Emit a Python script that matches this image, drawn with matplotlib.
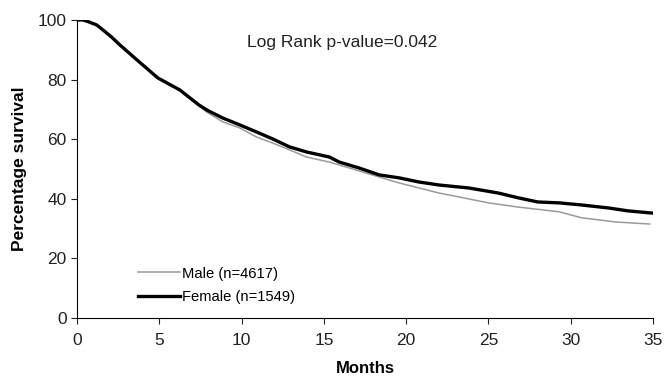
import matplotlib
matplotlib.use("Agg")
import matplotlib.pyplot as plt

plt.rcParams['font.family'] = ['Liberation Sans', 'DejaVu Sans']

# Kaplan-Meier curves (months, % survival)
months_female = [0, 0.35, 0.68, 1.19, 1.58, 2.1, 2.6, 3.63, 4.91, 6.24, 7.39, 7.87, 8.84,
                 9.87, 10.9, 11.87, 12.9, 13.93, 15.32, 15.93, 17.14, 18.35, 19.56, 20.78,
                 21.99, 23.8, 25.6, 26.8, 28.0, 29.3, 30.65, 32.28, 33.5, 34.9]
female = [100, 100, 99.4, 98.3, 96.6, 94.2, 91.6, 86.6, 80.5, 76.5, 71.5, 69.8, 67.1,
          64.8, 62.4, 60.1, 57.4, 55.7, 54.0, 52.3, 50.3, 48.0, 47.0, 45.6,
          44.6, 43.6, 41.9, 40.3, 38.9, 38.6, 37.9, 36.9, 35.9, 35.2]

months_male = [0, 0.35, 0.68, 1.19, 1.58, 2.1, 2.6, 3.63, 4.91, 6.24, 7.39, 7.87, 8.84,
               9.87, 10.9, 11.87, 12.9, 13.93, 15.32, 16.54, 18.35, 19.56, 20.78, 21.99,
               23.2, 25.0, 26.8, 29.3, 30.65, 32.7, 34.8]
male = [100, 100, 99.4, 98.3, 96.6, 94.2, 91.6, 86.6, 80.5, 76.5, 71.3, 69.1, 65.8,
        63.8, 60.7, 58.7, 56.4, 54.0, 52.3, 50.3, 47.3, 45.3, 43.6, 41.9,
        40.6, 38.6, 37.2, 35.6, 33.6, 32.2, 31.5]

fig = plt.figure(figsize=(6.65, 3.83), dpi=100)
ax = fig.add_axes([0.116, 0.170, 0.866, 0.778])

ax.plot(months_male, male, color='#9a9a9a', lw=1.1, label='Male (n=4617)')
ax.plot(months_female, female, color='black', lw=2.4, label='Female (n=1549)')

ax.set_xlim(0, 35)
ax.set_ylim(0, 100)
ax.set_xticks(range(0, 36, 5))
ax.set_yticks(range(0, 101, 20))
ax.spines['top'].set_visible(False)
ax.spines['right'].set_visible(False)
ax.tick_params(direction='out', length=4, labelsize=12.5, colors='#222222')
ax.tick_params(axis='x', pad=7)

ax.set_xlabel('Months', fontsize=12, fontweight='bold', labelpad=9)
ax.set_ylabel('Percentage survival', fontsize=12.5, fontweight='bold', labelpad=8)

ax.text(10.35, 92.3, 'Log Rank p-value=0.042', fontsize=12.5, va='center', color='#222222')

ax.legend(loc='center left', bbox_to_anchor=(0.095, 0.109), frameon=False,
          fontsize=10.6, handlelength=2.9, handletextpad=0.1, labelspacing=0.65,
          borderaxespad=0)

fig.savefig('out.png', dpi=100)
